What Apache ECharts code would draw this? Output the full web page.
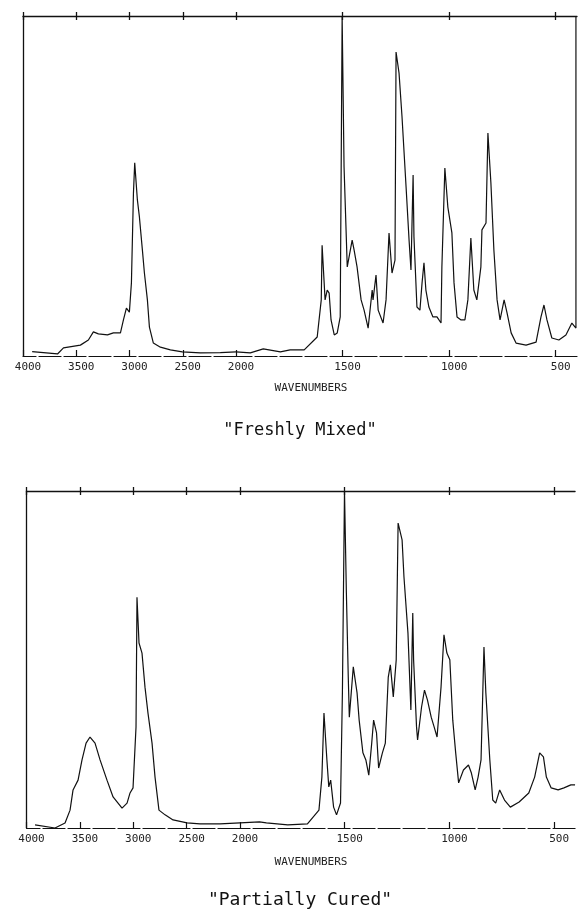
<!DOCTYPE html>
<html>
<head>
<meta charset="utf-8">
<script src="https://cdn.jsdelivr.net/npm/echarts@6/dist/echarts.min.js"></script>
<style>
html,body{margin:0;padding:0;background:#fff;}
#chart{width:579px;height:915px;}
</style>
</head>
<body>
<div id="chart"></div>
<script>
// ---- data (wavenumber cm-1, relative absorbance 0-100) ----
var panelTitles = ['"Freshly Mixed"', '"Partially Cured"'];
var axisName = 'WAVENUMBERS';
var highTicks = [4000, 3500, 3000, 2500, 2000];
var lowTicks = [1500, 1000, 500];

var freshWn = [3914,3676,3620,3461,3386,3339,3292,3207,3151,3085,3057,3029,3001,2982,2963,2951,2926,2907,2879,2860,2832,2813,2776,2710,2616,2504,2335,2147,2000,
  1933,1872,1792,1746,1680,1619,1600,1596,1582,1572,1563,1554,1539,1525,1511,1502,1493,1478,1455,1446,1432,1413,1399,1380,1361,1357,1343,1333,1310,1296,1282,1268,1254,1249,1235,1221,1202,1188,1179,1169,1165,1151,1137,1127,1118,1109,1095,1076,1057,1038,1034,1020,1006,987,977,963,944,926,912,898,884,870,851,846,827,818,804,790,775,761,742,728,709,686,639,592,569,555,541,518,485,452,424,405,405];
var freshAbs = [1.3,0.6,2.4,3.2,4.7,7.1,6.5,6.2,6.8,6.8,10.6,14.1,12.9,21.5,47.9,56.8,45.9,40.9,31.2,24.4,16.5,8.5,3.8,2.6,1.8,1.2,0.9,1.0,1.2,
  0.9,2.1,1.2,1.8,1.8,5.6,16.5,32.6,16.5,19.4,18.5,10.6,6.2,6.8,11.5,100,55.6,26.2,34.1,31.2,26.2,16.5,13.5,8.2,19.4,16.5,23.8,13.5,9.7,16.5,36.2,24.4,28.2,89.4,83.2,70.3,49.7,34.1,25.3,53.2,35.0,14.4,13.5,21.5,27.4,19.4,14.4,11.5,11.5,9.7,26.2,55.3,43.8,36.2,21.5,11.5,10.6,10.6,16.5,34.7,19.4,16.5,26.2,37.1,39.1,65.6,50.9,31.2,16.5,10.6,16.5,12.6,6.8,3.8,3.2,4.1,11.5,15.0,10.6,5.3,4.7,6.2,9.7,8.2,100];

var curedWn = [3920,3733,3639,3592,3564,3517,3480,3442,3405,3358,3311,3246,3189,3105,3058,3030,3002,2974,2965,2946,2918,2890,2862,2824,2796,2759,2702,2627,2496,2375,2188,2000,
  1907,1874,1772,1678,1623,1609,1599,1585,1576,1567,1553,1539,1520,1511,1501,1492,1483,1478,1459,1441,1431,1413,1399,1385,1371,1362,1348,1338,1320,1306,1292,1282,1268,1254,1245,1226,1217,1198,1184,1175,1171,1157,1152,1133,1119,1105,1087,1073,1059,1040,1026,1012,998,984,970,956,933,909,895,877,863,849,835,826,807,793,779,760,737,709,667,621,593,569,551,537,514,481,453,420,400];
var curedAbs = [0.9,0.0,1.5,5.3,11.3,14.2,20.2,25.2,27.0,25.2,20.2,14.2,9.2,5.9,7.4,10.4,11.9,30.0,68.5,54.9,51.9,41.8,34.1,25.2,15.1,5.3,3.9,2.4,1.5,1.2,1.2,1.5,
  1.8,1.5,0.9,1.2,5.3,15.1,34.1,20.2,12.2,14.2,6.2,3.9,7.4,40.1,100,69.7,44.8,32.9,47.8,40.1,32.0,22.3,20.2,15.7,25.2,32.0,28.2,17.8,22.3,25.2,44.8,48.4,38.9,49.9,90.5,85.5,74.5,57.9,35.0,63.8,49.9,30.0,26.1,35.9,40.9,38.0,32.9,30.0,27.0,41.8,57.3,51.9,49.9,32.0,22.3,13.4,17.2,18.7,16.3,11.3,15.1,20.2,53.7,40.1,20.2,8.3,7.4,11.3,8.3,6.2,7.7,10.4,15.1,22.3,21.1,15.1,11.9,11.3,11.9,12.8,12.8];

// ---- layout ----
var ink = '#111';
var mono = '"DejaVu Sans Mono", "Liberation Mono", monospace';
var panels = [
  {wn: freshWn, abs: freshAbs, top: 16, height: 340, leftA: 23, widthA: 213, widthB: 341, title: panelTitles[0], titleY: 431, nameY: 388},
  {wn: curedWn, abs: curedAbs, top: 491, height: 337, leftA: 26.5, widthA: 213.5, widthB: 343, title: panelTitles[1], titleY: 900, nameY: 862}
];

var grids = [], xAxes = [], yAxes = [], series = [], graphics = [];

function pairs(wn, abs, lo, hi) {
  var out = [];
  for (var i = 0; i < wn.length; i++) {
    if (wn[i] >= lo && wn[i] <= hi) out.push([wn[i], abs[i]]);
  }
  return out;
}

panels.forEach(function (p, pi) {
  var gA = grids.length;
  grids.push({left: p.leftA, top: p.top, width: p.widthA, height: p.height, containLabel: false});
  grids.push({left: p.leftA + p.widthA, top: p.top, width: p.widthB, height: p.height, containLabel: false});
  var segs = [
    {g: gA, min: 2000, max: 4000, ticks: highTicks},
    {g: gA + 1, min: 400, max: 2000, ticks: lowTicks}
  ];
  segs.forEach(function (s, si) {
    var base = {type: 'value', gridIndex: s.g, min: s.min, max: s.max, inverse: true, splitLine: {show: false}};
    // bottom axis with labels
    xAxes.push(Object.assign({}, base, {
      position: 'bottom',
      axisLine: {show: true, lineStyle: {color: ink, width: 1.2, type: [22, 3]}},
      axisTick: {show: true, inside: true, length: 6, lineStyle: {color: ink, width: 1.2}, customValues: s.ticks},
      axisLabel: {show: true, customValues: s.ticks, margin: 6, padding: [0, 0, 0, 10],
        fontFamily: mono, fontSize: 11, color: '#222', formatter: function (v) { return String(v); }}
    }));
    // top axis, outer tick half
    xAxes.push(Object.assign({}, base, {
      position: 'top',
      axisLine: {show: true, lineStyle: {color: ink, width: 1.3}},
      axisTick: {show: true, inside: false, length: 4, lineStyle: {color: ink, width: 1.3}, customValues: s.ticks},
      axisLabel: {show: false}
    }));
    // top axis, inner tick half
    xAxes.push(Object.assign({}, base, {
      position: 'top',
      axisLine: {show: false},
      axisTick: {show: true, inside: true, length: 4, lineStyle: {color: ink, width: 1.3}, customValues: s.ticks},
      axisLabel: {show: false}
    }));
    yAxes.push({type: 'value', gridIndex: s.g, min: 0, max: 100, position: 'left',
      axisLine: {show: si === 0, lineStyle: {color: ink, width: 1.3}},
      axisTick: {show: false}, axisLabel: {show: false}, splitLine: {show: false}});
    series.push({
      type: 'line', xAxisIndex: xAxes.length - 3, yAxisIndex: yAxes.length - 1,
      data: pairs(p.wn, p.abs, s.min, s.max),
      showSymbol: false, symbol: 'none', smooth: false, clip: false,
      lineStyle: {color: ink, width: 1.2}, animation: false
    });
  });
  graphics.push({type: 'text', x: 311, y: p.nameY, style: {text: axisName, font: '11px ' + mono, fill: '#222', textAlign: 'center', textVerticalAlign: 'middle'}});
  graphics.push({type: 'text', x: 300, y: p.titleY, style: {text: p.title, font: (pi === 0 ? '17px ' : '18px ') + mono, fill: ink, textAlign: 'center', textVerticalAlign: 'middle'}});
});

var chart = echarts.init(document.getElementById('chart'), null, {renderer: 'canvas'});
chart.setOption({
  animation: false,
  backgroundColor: '#fff',
  grid: grids,
  xAxis: xAxes,
  yAxis: yAxes,
  series: series,
  graphic: graphics
});
</script>
</body>
</html>
